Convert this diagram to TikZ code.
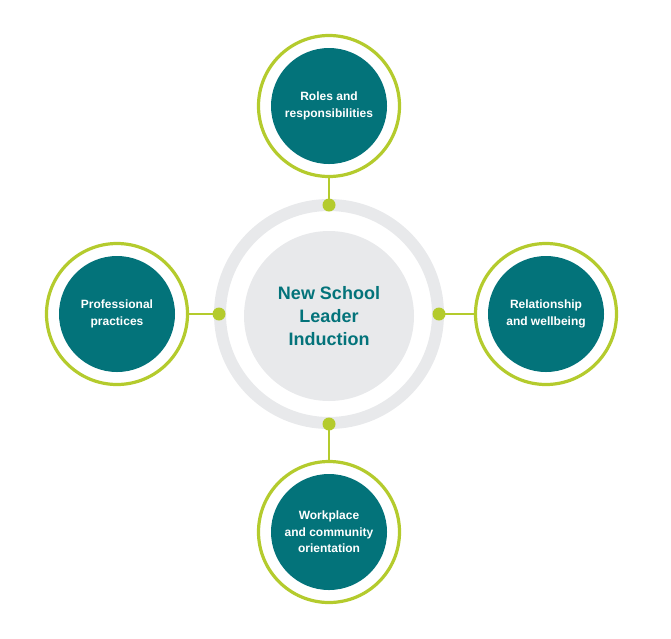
\documentclass[tikz,border=0pt]{standalone}
\usepackage{fontspec}
\setmainfont{Liberation Sans}
\definecolor{teal1}{HTML}{03737A}
\definecolor{lime1}{HTML}{B4CB2D}
\definecolor{gray1}{HTML}{E8E9EB}
\begin{document}
\begin{tikzpicture}[x=1pt,y=-1pt,
  sat/.style={circle,fill=teal1,minimum size=116pt,inner sep=0pt,text=white,font=\bfseries\fontsize{12}{16.5}\selectfont,align=center},
  satring/.style={circle,draw=lime1,line width=3.2pt,fill=white,minimum size=141pt,inner sep=0pt},
  dotc/.style={circle,fill=lime1,minimum size=13pt,inner sep=0pt},
  link/.style={draw=lime1,line width=1.5pt}]
\useasboundingbox (0,0) rectangle (671,638);
% central
\node[circle,draw=gray1,line width=12pt,minimum size=218pt,inner sep=0pt] (ring) at (329,314) {};
\node[circle,fill=gray1,minimum size=170pt,inner sep=0pt,text=teal1,font=\bfseries\fontsize{18}{23}\selectfont,align=center] (core) at (329,316) {New School\\Leader\\Induction};
% satellites rings
\node[satring] (rt) at (329,106) {};
\node[satring] (rl) at (117,314) {};
\node[satring] (rr) at (546,314) {};
\node[satring] (rb) at (329,532) {};
% dots
\node[dotc] (dt) at (329,205) {};
\node[dotc] (dl) at (219,314) {};
\node[dotc] (dr) at (439,314) {};
\node[dotc] (db) at (329,424) {};
% links
\draw[link] (rt.south) -- (dt.center);
\draw[link] (rl.east) -- (dl.center);
\draw[link] (rr.west) -- (dr.center);
\draw[link] (rb.north) -- (db.center);
% satellite fills
\node[sat] (st) at (rt) {Roles and\\responsibilities};
\node[sat] (sl) at (rl) {Professional\\practices};
\node[sat] (sr) at (rr) {Relationship\\and wellbeing};
\node[sat] (sb) at (rb) {Workplace\\and community\\orientation};
\end{tikzpicture}
\end{document}
